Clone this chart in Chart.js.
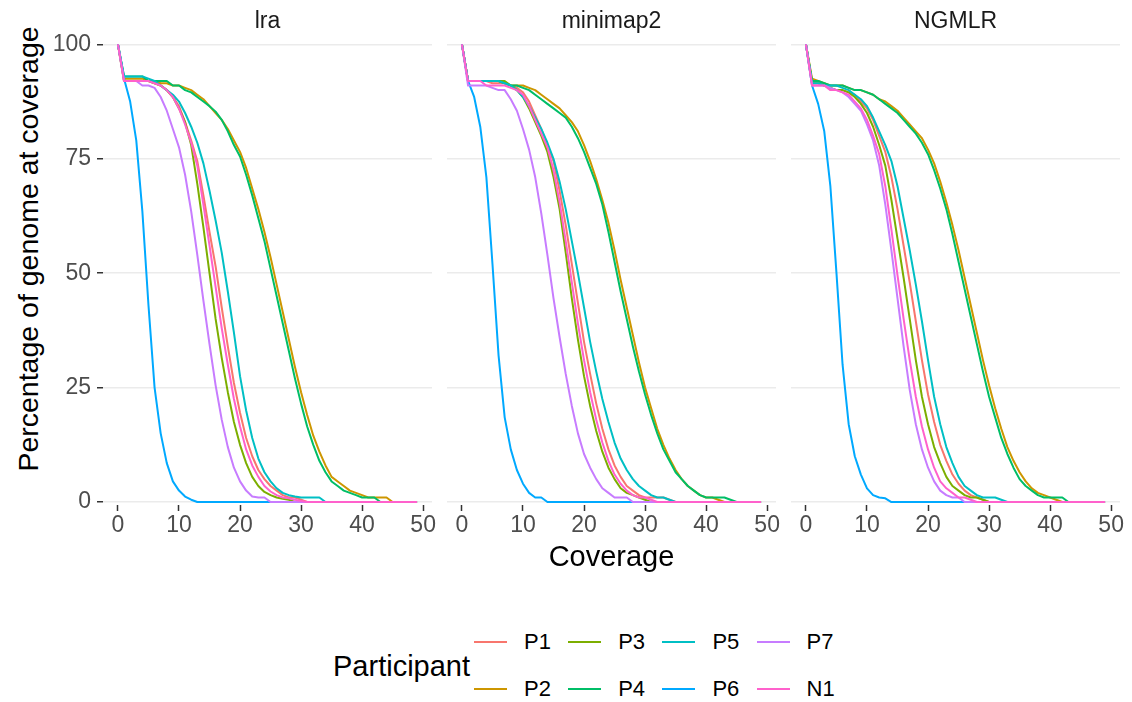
<!DOCTYPE html>
<html>
<head>
<meta charset="utf-8">
<script src="https://cdn.jsdelivr.net/npm/chart.js@4.4.1/dist/chart.umd.min.js"></script>
<style>
  body { margin: 0; background: #fff; width: 1132px; height: 702px; overflow: hidden; position: relative;
         font-family: "Liberation Sans", Arial, sans-serif; }
  canvas { position: absolute; top: 0; }
  #yTitle { position: absolute; left: -222px; top: 235px; width: 500px; height: 28px; line-height: 28px;
            text-align: center; font-size: 28.5px; color: #000; transform: rotate(-90deg); white-space: nowrap; }
  #legendTitle { position: absolute; left: 333px; top: 650px; font-size: 29px; line-height: 32px; color: #000; }
  .item { position: absolute; height: 30px; display: flex; align-items: center; }
  .key { display: inline-block; width: 33px; height: 2.5px; margin-right: 17px; }
  .lbl { font-size: 22px; color: #000; }
</style>
</head>
<body>
<div id="yTitle">Percentage of genome at coverage</div>
<canvas id="lraChart" width="438" height="580" style="left:0px"></canvas>
<canvas id="minimapChart" width="341" height="580" style="left:441px"></canvas>
<canvas id="ngmlrChart" width="341" height="580" style="left:785px"></canvas>
<div id="legendTitle">Participant</div>
<div id="legend"></div>
<script>
const FONT = '"Liberation Sans", Arial, sans-serif';

const coverage = [
  0, 1, 2, 3, 4, 5, 6, 7, 8, 9,
  10, 11, 12, 13, 14, 15, 16, 17, 18, 19,
  20, 21, 22, 23, 24, 25, 26, 27, 28, 29,
  30, 31, 32, 33, 34, 35, 36, 37, 38, 39,
  40, 41, 42, 43, 44, 45, 46, 47, 48, 49
];
const participants = ['P1', 'P2', 'P3', 'P4', 'P5', 'P6', 'P7', 'N1'];
const participantColors = ['#F8766D', '#CD9600', '#7CAE00', '#00BE67', '#00BFC4', '#00A9FF', '#C77CFF', '#FF61CC'];
const yTicks = [0, 25, 50, 75, 100];
const xTicks = [0, 10, 20, 30, 40, 50];

// ---- lra ----
const lraP1 = [
  100, 92, 92, 92, 92, 92, 91.5, 91, 90, 88.5,
  86.5, 83, 79, 74.5, 67, 59, 51.5, 42.5, 34, 26,
  19.5, 14, 10, 7, 5, 3.5, 2.5, 1.5, 1, 1,
  0.5, 0, 0, 0, 0, 0, 0, 0, 0, 0,
  0, 0, 0, 0, 0, 0, 0, 0, 0, 0
];
const lraP2 = [
  100, 92.5, 92.5, 92.5, 92.5, 92, 92, 91.5, 91.5, 91,
  91, 90.5, 90, 89, 88, 86.5, 85, 83.5, 81.5, 79,
  76.5, 73, 68.5, 64, 59, 53.5, 47.5, 41.5, 35.5, 29.5,
  24, 19, 14.5, 11, 8, 5.5, 4.5, 3.5, 2.5, 2,
  1.5, 1, 1, 1, 1, 0, 0, 0, 0, 0
];
const lraP3 = [
  100, 92, 92, 92, 92, 92, 91.5, 91, 90, 88.5,
  86, 83, 78, 69.5, 60, 50, 40, 31.5, 24, 17.5,
  12.5, 8.5, 5.5, 3.5, 2.2, 1.5, 1, 0.7, 0.5, 0,
  0, 0, 0, 0, 0, 0, 0, 0, 0, 0,
  0, 0, 0, 0, 0, 0, 0, 0, 0, 0
];
const lraP4 = [
  100, 93, 93, 93, 93, 92, 92, 92, 92, 91,
  91, 90, 89.5, 88.5, 87.5, 86.5, 85.3, 83.5, 81, 78,
  75.5, 71.5, 67, 62, 57, 51, 45, 39, 33, 27,
  21.5, 16.5, 12.5, 9, 6.5, 4.5, 3.5, 2.5, 2, 1.5,
  1, 1, 1, 0, 0, 0, 0, 0, 0, 0
];
const lraP5 = [
  100, 93, 93, 93, 93, 92.5, 92, 91, 90, 89,
  87.5, 85, 82, 78.5, 74, 68, 61.5, 54.5, 46, 37,
  27.5, 20, 14, 9.5, 6.5, 4.5, 3, 2, 1.5, 1.2,
  1, 1, 1, 1, 0, 0, 0, 0, 0, 0,
  0, 0, 0, 0, 0, 0, 0, 0, 0, 0
];
const lraP6 = [
  100, 92.5, 87.5, 79, 63.5, 43, 25, 15, 8.5, 4.5,
  2.5, 1.2, 0.5, 0, 0, 0, 0, 0, 0, 0,
  0, 0, 0, 0, 0, 0, 0, 0, 0, 0,
  0, 0, 0, 0, 0, 0, 0, 0, 0, 0,
  0, 0, 0, 0, 0, 0, 0, 0, 0, 0
];
const lraP7 = [
  100, 92, 92, 92, 91, 91, 90.5, 88.5, 85.5, 81.5,
  77.5, 71.5, 63.5, 54, 44, 34.5, 25.5, 18, 12, 7.5,
  4.5, 2.5, 1.2, 1, 1, 0, 0, 0, 0, 0,
  0, 0, 0, 0, 0, 0, 0, 0, 0, 0,
  0, 0, 0, 0, 0, 0, 0, 0, 0, 0
];
const lraN1 = [
  100, 92, 92, 92, 92, 92, 91.5, 91, 90, 88.5,
  86, 82.5, 78.5, 73.5, 65, 56, 47, 38, 30, 22.5,
  16.5, 11.5, 8, 5.5, 3.5, 2.3, 1.5, 1, 0.8, 0.5,
  0.2, 0, 0, 0, 0, 0, 0, 0, 0, 0,
  0, 0, 0, 0, 0, 0, 0, 0, 0, 0
];

// ---- minimap2 ----
const mmP1 = [
  100, 92, 92, 92, 92, 91.5, 91.5, 91.5, 91, 90.5,
  89.5, 87.5, 84.5, 81.5, 78, 74.5, 68, 60.5, 52, 43.5,
  35, 28, 21.5, 16, 11.5, 8, 5.5, 3.5, 2.5, 1.5,
  1, 1, 1, 1, 0.5, 0, 0, 0, 0, 0,
  0, 0, 0, 0, 0, 0, 0, 0, 0, 0
];
const mmP2 = [
  100, 92, 92, 92, 92, 92, 92, 91.5, 91, 91,
  91, 90.5, 90, 89, 88, 87, 86, 84.5, 83, 81,
  78, 74.5, 70.5, 66, 61, 55, 48.5, 42.5, 36.5, 30.5,
  25, 20.5, 16, 12.5, 9.5, 7, 5, 3.5, 2.5, 1.5,
  1, 1, 0.5, 0, 0, 0, 0, 0, 0, 0
];
const mmP3 = [
  100, 92, 92, 92, 92, 92, 92, 92, 91, 90,
  88.5, 86, 83, 80, 76.5, 71, 64, 54.5, 44.5, 35.5,
  27.5, 21, 15.5, 11, 7.5, 5, 3, 2, 1.5, 1,
  0.5, 0, 0, 0, 0, 0, 0, 0, 0, 0,
  0, 0, 0, 0, 0, 0, 0, 0, 0, 0
];
const mmP4 = [
  100, 92, 92, 92, 92, 92, 92, 91.5, 91, 91,
  90.5, 90, 89, 88, 87, 86, 85, 84, 82, 79.5,
  76.5, 73, 69.5, 65, 59, 52.5, 46, 40, 34, 28.5,
  23.5, 19, 15, 11.5, 9, 6.5, 5, 3.5, 2.5, 1.5,
  1, 1, 1, 1, 0.5, 0, 0, 0, 0, 0
];
const mmP5 = [
  100, 92, 92, 92, 92, 92, 92, 91.5, 91, 90,
  88.5, 86.5, 84, 81.5, 78.5, 75, 70, 64, 57, 50,
  42.5, 35, 28.5, 22.5, 17.5, 13, 9.5, 7, 5, 3.5,
  2.5, 1.5, 1, 1, 0.5, 0, 0, 0, 0, 0,
  0, 0, 0, 0, 0, 0, 0, 0, 0, 0
];
const mmP6 = [
  100, 92, 88.5, 82, 71, 52, 32, 18.5, 11.5, 7,
  4, 2, 1, 1, 0, 0, 0, 0, 0, 0,
  0, 0, 0, 0, 0, 0, 0, 0, 0, 0,
  0, 0, 0, 0, 0, 0, 0, 0, 0, 0,
  0, 0, 0, 0, 0, 0, 0, 0, 0, 0
];
const mmP7 = [
  100, 91, 91, 91, 91, 90.5, 90, 90, 88, 85.5,
  81.5, 77, 71, 63, 54, 44.5, 36, 28, 21, 15,
  10.5, 7.5, 5, 3, 2, 1, 1, 1, 0, 0,
  0, 0, 0, 0, 0, 0, 0, 0, 0, 0,
  0, 0, 0, 0, 0, 0, 0, 0, 0, 0
];
const mmN1 = [
  100, 92, 92, 92, 91, 91, 91, 91, 90.5, 90,
  89, 86.5, 83.5, 80.5, 77.5, 72.5, 65.5, 57, 48, 39,
  31, 24, 18, 13, 9, 6, 4, 2.5, 1.5, 1,
  1, 0.5, 0, 0, 0, 0, 0, 0, 0, 0,
  0, 0, 0, 0, 0, 0, 0, 0, 0, 0
];

// ---- NGMLR ----
const ngP1 = [
  100, 91.5, 91.5, 91, 90.5, 90, 90, 89.5, 89, 87.5,
  86, 83.5, 80, 76.5, 71, 64, 56, 48, 39.5, 31,
  23.5, 17.5, 12.5, 9, 6, 4, 2.5, 1.5, 1, 0.5,
  0, 0, 0, 0, 0, 0, 0, 0, 0, 0,
  0, 0, 0, 0, 0, 0, 0, 0, 0, 0
];
const ngP2 = [
  100, 92.5, 92, 91.5, 91, 91, 91, 90.5, 90, 90,
  89.5, 89, 88, 87.5, 86.5, 85.5, 84, 82.5, 81, 79.5,
  77, 74, 70, 65.5, 60.5, 55, 49, 43, 37, 31,
  25.5, 20.5, 16, 12, 9, 6.5, 4.5, 3, 2, 1.5,
  1, 0.5, 0, 0, 0, 0, 0, 0, 0, 0
];
const ngP3 = [
  100, 91.5, 91.5, 91, 90.5, 90, 90, 89.5, 88.5, 87,
  85, 82, 78, 73.5, 66, 57.5, 49, 40, 31, 23,
  17, 12, 8.5, 5.5, 3.5, 2.5, 1.5, 1, 1, 0.5,
  0, 0, 0, 0, 0, 0, 0, 0, 0, 0,
  0, 0, 0, 0, 0, 0, 0, 0, 0, 0
];
const ngP4 = [
  100, 92, 92, 91.5, 91, 91, 91, 90.5, 90, 90,
  89.5, 89, 88, 87, 86, 85, 83.5, 82, 80.5, 78.5,
  76, 72.5, 68.5, 64, 58.5, 52.5, 46.5, 40.5, 34.5, 28.5,
  23, 18.5, 14, 10.5, 7.5, 5, 3.5, 2.5, 1.5, 1,
  1, 1, 1, 0, 0, 0, 0, 0, 0, 0
];
const ngP5 = [
  100, 91.5, 91.5, 91, 91, 91, 90.5, 90, 89, 88,
  86.5, 84, 81, 78, 74.5, 69, 62, 55, 47.5, 39.5,
  31, 23, 17, 12, 8.5, 5.5, 3.5, 2.5, 1.5, 1,
  1, 1, 0.5, 0, 0, 0, 0, 0, 0, 0,
  0, 0, 0, 0, 0, 0, 0, 0, 0, 0
];
const ngP6 = [
  100, 91, 87, 81, 69, 50, 30, 17, 10, 6,
  3, 1.5, 1, 0.8, 0, 0, 0, 0, 0, 0,
  0, 0, 0, 0, 0, 0, 0, 0, 0, 0,
  0, 0, 0, 0, 0, 0, 0, 0, 0, 0,
  0, 0, 0, 0, 0, 0, 0, 0, 0, 0
];
const ngP7 = [
  100, 91, 91, 91, 90.5, 90, 89.5, 88.5, 87, 85.5,
  82.5, 79, 73.5, 65, 55, 44.5, 34, 24.5, 17, 11.5,
  7.5, 4.5, 2.5, 1.5, 1, 1, 0, 0, 0, 0,
  0, 0, 0, 0, 0, 0, 0, 0, 0, 0,
  0, 0, 0, 0, 0, 0, 0, 0, 0, 0
];
const ngN1 = [
  100, 91, 91, 91, 90, 90, 89.5, 89, 87.5, 86,
  83.5, 80, 76, 69, 59.5, 49.5, 40, 31, 23, 16.5,
  11.5, 7.5, 4.5, 3, 2, 1, 1, 0.5, 0, 0,
  0, 0, 0, 0, 0, 0, 0, 0, 0, 0,
  0, 0, 0, 0, 0, 0, 0, 0, 0, 0
];

const panels = [
  { id: 'lraChart', title: 'lra', series: [lraP1, lraP2, lraP3, lraP4, lraP5, lraP6, lraP7, lraN1] },
  { id: 'minimapChart', title: 'minimap2', series: [mmP1, mmP2, mmP3, mmP4, mmP5, mmP6, mmP7, mmN1] },
  { id: 'ngmlrChart', title: 'NGMLR', series: [ngP1, ngP2, ngP3, ngP4, ngP5, ngP6, ngP7, ngN1] }
];

Chart.defaults.font.family = FONT;

panels.forEach((p, idx) => {
  const first = idx === 0;
  const middle = idx === 1;
  try {
    new Chart(document.getElementById(p.id), {
      type: 'line',
      data: {
        datasets: p.series.map((vals, i) => ({
          label: participants[i],
          data: coverage.map((c, j) => ({ x: c, y: vals[j] })),
          borderColor: participantColors[i],
          borderWidth: 2,
          borderJoinStyle: 'round',
          pointRadius: 0,
          tension: 0,
          order: participants.length - i   // N1 on top, like ggplot
        }))
      },
      options: {
        responsive: false,
        animation: false,
        events: [],
        layout: { padding: { left: first ? 0 : 6, right: 6, top: 0, bottom: 0 } },
        plugins: {
          legend: { display: false },
          tooltip: { enabled: false },
          title: {
            display: true, text: p.title, fullSize: false, color: '#1A1A1A',
            font: { size: 23, weight: 'normal' }, padding: { top: 8, bottom: 4.4 }
          }
        },
        scales: {
          x: {
            type: 'linear', min: -2.45, max: 51.45,
            afterBuildTicks: s => { s.ticks = xTicks.map(v => ({ value: v })); },
            afterFit: s => { s.height = 75; s.paddingLeft = 0; s.paddingRight = 0; },
            grid: { drawOnChartArea: false, tickLength: 6, tickColor: '#333333', tickWidth: 1.5 },
            border: { display: false },
            ticks: { color: '#4D4D4D', font: { size: 23 }, padding: 1, maxRotation: 0, autoSkip: false },
            title: { display: middle, text: 'Coverage', color: '#000', font: { size: 29 }, padding: { top: 0, bottom: 5 } }
          },
          y: {
            min: -0.65, max: 100.95,
            afterBuildTicks: s => { s.ticks = yTicks.map(v => ({ value: v })); },
            afterFit: s => { s.width = first ? 103 : 0; s.paddingTop = 0; s.paddingBottom = 0; },
            grid: { color: '#EBEBEB', lineWidth: 1.5, drawTicks: first, tickLength: 6, tickColor: '#333333', tickWidth: 1.5 },
            border: { display: false },
            ticks: { display: first, color: '#4D4D4D', font: { size: 23 }, padding: 6 }
          }
        }
      }
    });
  } catch (e) { console.error('Crash in ' + p.id, e); }
});

// legend, laid out by column like ggplot's guide
const legendEl = document.getElementById('legend');
participants.forEach((name, i) => {
  const col = Math.floor(i / 2), row = i % 2;
  const item = document.createElement('div');
  item.className = 'item';
  item.style.left = (474 + col * 94.2) + 'px';
  item.style.top = ((row ? 689 : 642) - 15) + 'px';
  item.innerHTML = '<span class="key" style="background:' + participantColors[i] + '"></span><span class="lbl">' + name + '</span>';
  legendEl.appendChild(item);
});
</script>
</body>
</html>
